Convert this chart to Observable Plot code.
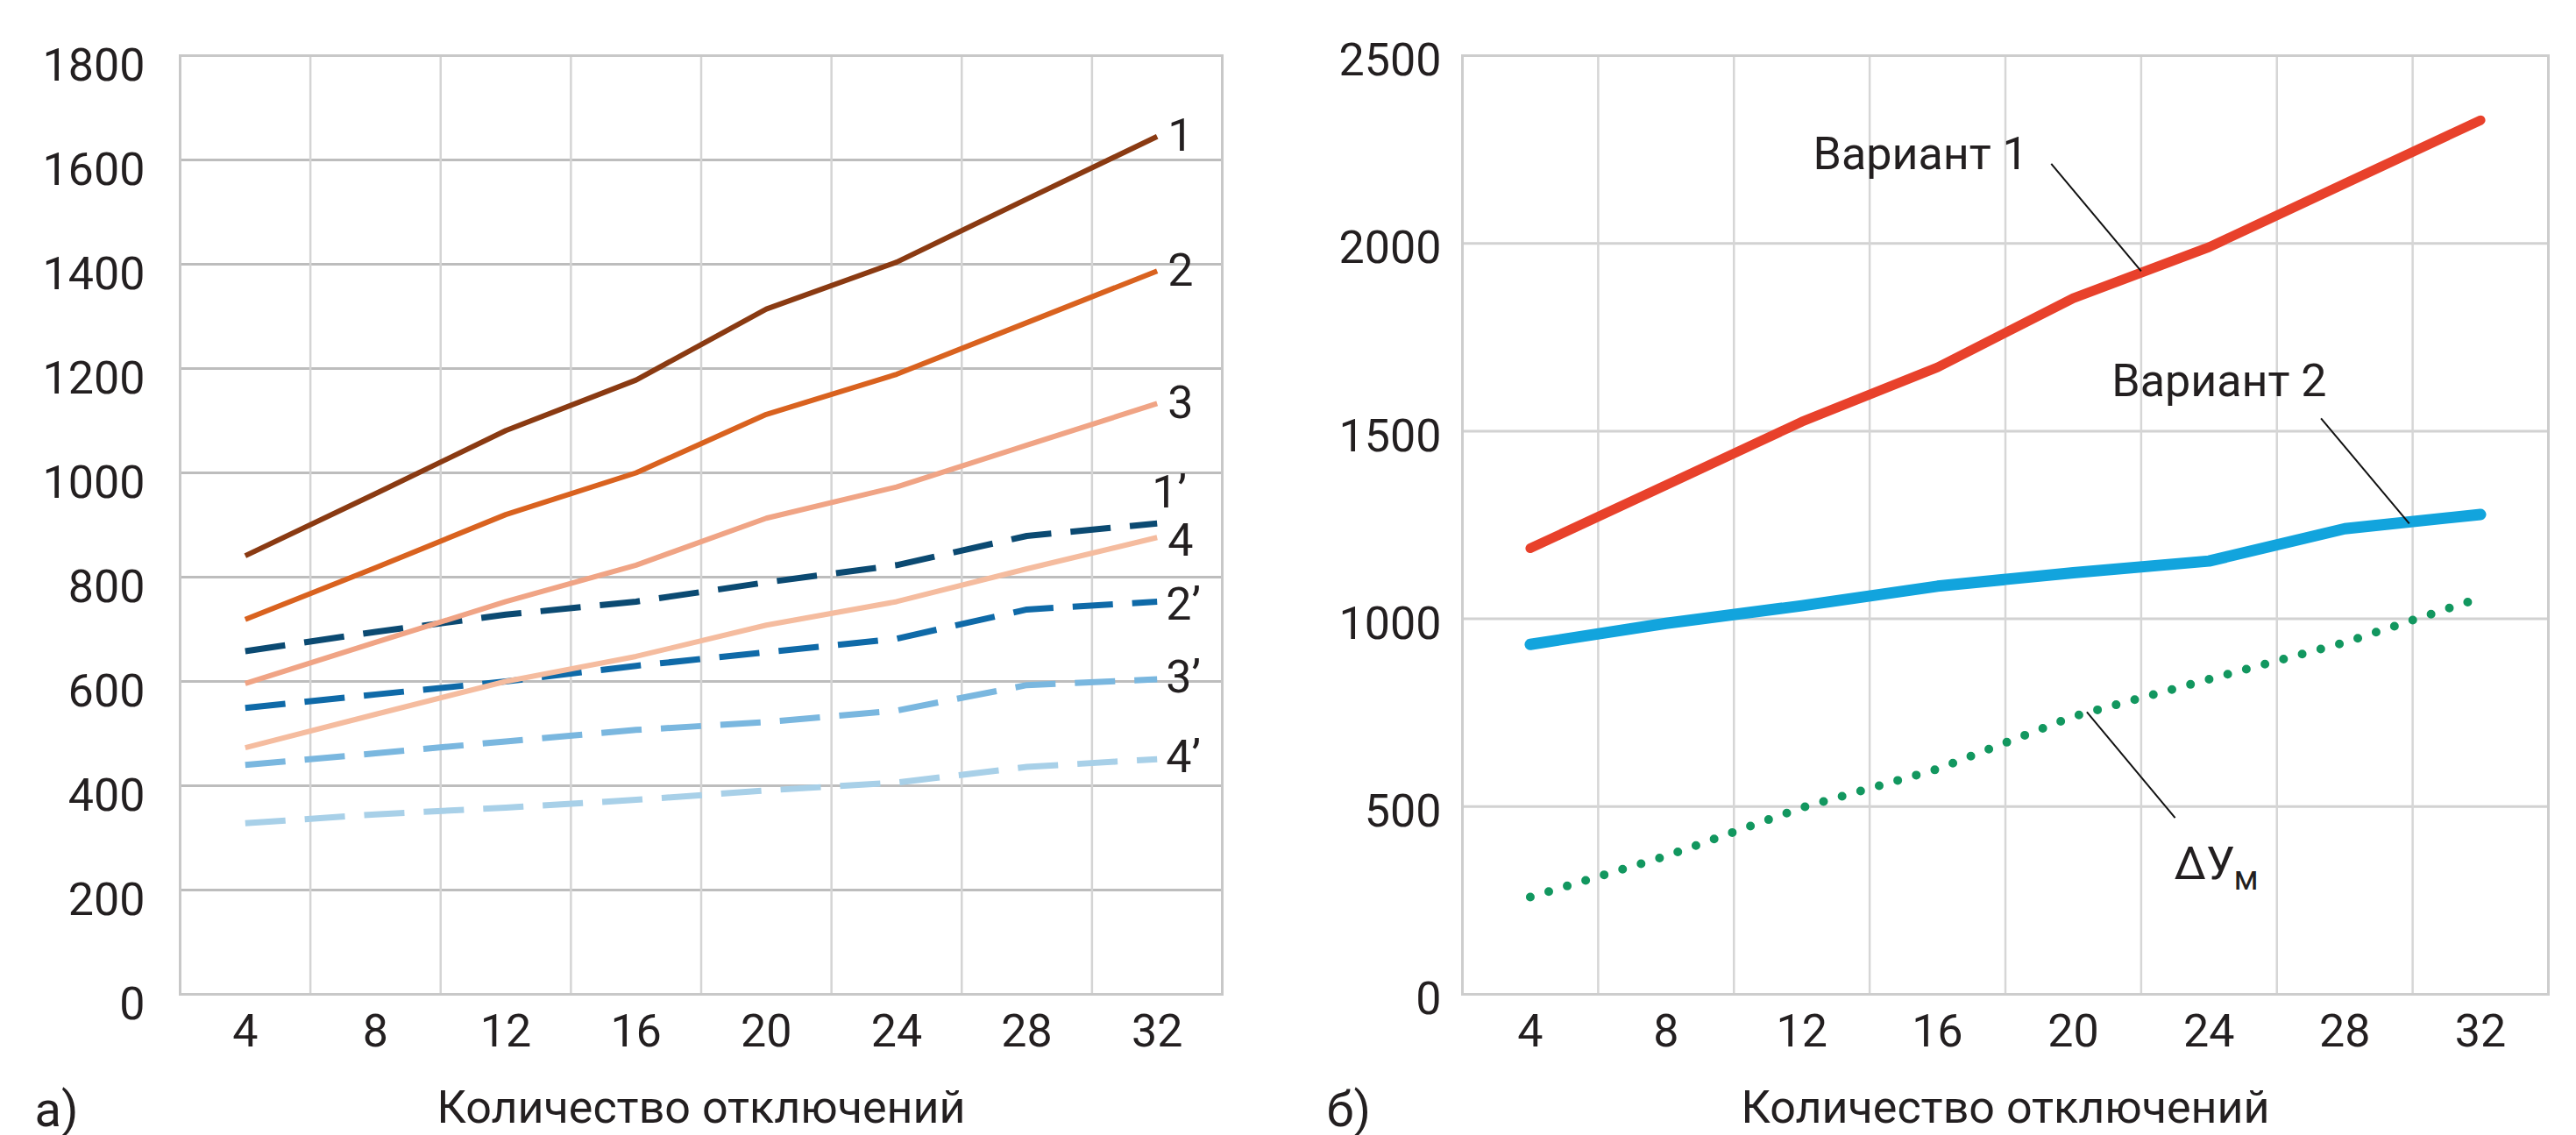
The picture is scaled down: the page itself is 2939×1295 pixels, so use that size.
<!DOCTYPE html>
<html><head><meta charset="utf-8">
<script src="https://cdn.jsdelivr.net/npm/d3@7"></script>
<script src="https://cdn.jsdelivr.net/npm/@observablehq/plot@0.6"></script>
<style>
html,body{margin:0;padding:0;background:#fff}
body{width:2939px;height:1295px;overflow:hidden;position:relative;font-family:Roboto,sans-serif}
#chartA{position:absolute;left:0;top:0}
#chartB{position:absolute;left:1460px;top:0}
</style></head><body>
<div id="chartA"></div><div id="chartB"></div>
<script>
// ---------- data ----------
const xCounts = [4, 8, 12, 16, 20, 24, 28, 32];
const xGrid = [6, 10, 14, 18, 22, 26, 30];
const yTicksA = [0, 200, 400, 600, 800, 1000, 1200, 1400, 1600, 1800];
const yTicksB = [0, 500, 1000, 1500, 2000, 2500];

// chart а)
const line1  = [841, 960, 1081, 1178, 1314, 1404, 1525, 1645];
const line2  = [719, 818, 920, 1000, 1112, 1189, 1288, 1387];
const line3  = [596, 675, 753, 823, 913, 973, 1053, 1133];
const line4  = [473, 537, 600, 648, 708, 753, 816, 876];
const line1p = [658, 695, 728, 753, 790, 823, 879, 903];
const line2p = [549, 575, 600, 630, 656, 682, 738, 753];
const line3p = [440, 462, 485, 507, 522, 544, 593, 604];
const line4p = [328, 345, 358, 373, 391, 406, 436, 451];
const seriesNamesA = ["1", "2", "3", "4", "1’", "2’", "3’", "4’"];

// chart б)
const variant1 = [1188, 1356, 1525, 1670, 1854, 1990, 2159, 2328];
const variant2 = [932, 988, 1035, 1087, 1123, 1154, 1240, 1278];
const deltaU   = [259, 368, 497, 600, 740, 839, 937, 1056];
const seriesNamesB = ["Вариант 1", "Вариант 2", "ΔУ"];

// annotation anchors (data coordinates)
const annoText = [
  {label: "Вариант 1", x: 15.5, y: 2197},
  {label: "Вариант 2", x: 24.3, y: 1593}
];
const annoLinks = [
  {x1: 19.35, y1: 2212, x2: 22.0, y2: 1926},
  {x1: 27.3, y1: 1534, x2: 29.9, y2: 1254},
  {x1: 20.4, y1: 752, x2: 23.0, y2: 470}
];
const deltaLabel = {x: 22.97, y: 306};

const axisTitle = "Количество отключений";

// ---------- styles ----------
const FONT = "Roboto";
const TXT = "#231f20";
const stylesA = [
  {stroke: "#8a3a12", width: 6, dash: null},
  {stroke: "#d9621f", width: 6, dash: null},
  {stroke: "#f0a485", width: 6, dash: null},
  {stroke: "#f5bc9f", width: 6, dash: null},
  {stroke: "#0b4a72", width: 7, dash: "46 22"},
  {stroke: "#0f6aa8", width: 7, dash: "46 22"},
  {stroke: "#7ab7df", width: 7, dash: "46 22"},
  {stroke: "#a8d0e8", width: 7, dash: "46 22"}
];
const labelOffsetA = [
  {dx: 12, dy: 0}, {dx: 12, dy: 0}, {dx: 12, dy: 0}, {dx: 12, dy: 4},
  {dx: -6, dy: -35}, {dx: 10, dy: 4}, {dx: 10, dy: -2}, {dx: 10, dy: -2}
];

const toPts = vals => xCounts.map((x, i) => ({x, y: vals[i]}));
const fmt = d => `${d}`;

// ---------- chart а) ----------
const valsA = [line1, line2, line3, line4, line1p, line2p, line3p, line4p];
const marksA = [
  Plot.ruleY(yTicksA.slice(1, -1), {stroke: "#bdbdbd", strokeWidth: 3}),
  Plot.ruleX(xGrid, {stroke: "#d4d4d4", strokeWidth: 2.5}),
  Plot.frame({stroke: "#c8c8c8", strokeWidth: 3}),
  Plot.axisY(yTicksA, {label: null, tickFormat: fmt, tickSize: 0, tickPadding: 40, fontSize: 52, dy: 12, fill: TXT}),
  Plot.axisX(xCounts, {label: null, tickFormat: fmt, tickSize: 0, tickPadding: 23, fontSize: 52, fill: TXT}),
];
[4, 5, 6, 7, 0, 1, 2, 3].forEach(k => {
  const st = stylesA[k];
  marksA.push(Plot.line(toPts(valsA[k]), {
    x: "x", y: "y", stroke: st.stroke, strokeWidth: st.width,
    strokeDasharray: st.dash ?? undefined, strokeLinecap: "butt", strokeLinejoin: "round"
  }));
});
valsA.forEach((vals, k) => {
  const last = xCounts.length - 1;
  marksA.push(Plot.text([{x: xCounts[last], y: vals[last], t: seriesNamesA[k]}], {
    x: "x", y: "y", text: "t", textAnchor: "start",
    dx: labelOffsetA[k].dx, dy: labelOffsetA[k].dy,
    fontSize: 52, fill: TXT, fontFamily: FONT
  }));
});
marksA.push(Plot.text([axisTitle], {frameAnchor: "bottom", dy: 146, lineAnchor: "bottom", fontSize: 52, fill: TXT, fontFamily: FONT}));
marksA.push(Plot.text(["а)"], {frameAnchor: "bottom-left", dx: -166, dy: 150, textAnchor: "start", lineAnchor: "bottom", fontSize: 56, fill: TXT, fontFamily: FONT}));

const chartA = Plot.plot({
  width: 1460, height: 1295,
  marginLeft: 205, marginRight: 66, marginTop: 63, marginBottom: 161,
  x: {domain: [2, 34]},
  y: {domain: [0, 1800]},
  style: {fontFamily: FONT, fontSize: "52px", color: TXT, background: "#fff", overflow: "visible"},
  marks: marksA
});
document.getElementById("chartA").append(chartA);

// ---------- chart б) ----------
const marksB = [
  Plot.ruleY(yTicksB.slice(1, -1), {stroke: "#d2d2d2", strokeWidth: 3}),
  Plot.ruleX(xGrid, {stroke: "#d6d6d6", strokeWidth: 2.5}),
  Plot.frame({stroke: "#cdcdcd", strokeWidth: 3}),
  Plot.axisY(yTicksB, {label: null, tickFormat: fmt, tickSize: 0, tickPadding: 24, fontSize: 52, dy: 6, fill: TXT}),
  Plot.axisX(xCounts, {label: null, tickFormat: fmt, tickSize: 0, tickPadding: 23, fontSize: 52, fill: TXT}),
  Plot.line(toPts(deltaU), {x: "x", y: "y", stroke: "#12975f", strokeWidth: 10, strokeDasharray: "0 22", strokeLinecap: "round"}),
  Plot.line(toPts(variant2), {x: "x", y: "y", stroke: "#12a4dd", strokeWidth: 13, strokeLinecap: "round", strokeLinejoin: "round"}),
  Plot.line(toPts(variant1), {x: "x", y: "y", stroke: "#e8412b", strokeWidth: 11, strokeLinecap: "round", strokeLinejoin: "round"}),
  Plot.link(annoLinks, {x1: "x1", y1: "y1", x2: "x2", y2: "y2", stroke: "#111", strokeWidth: 2}),
  Plot.text(annoText, {x: "x", y: "y", text: "label", lineAnchor: "bottom", fontSize: 52, fill: TXT, fontFamily: FONT}),
  Plot.text([{...deltaLabel, t: seriesNamesB[2]}], {x: "x", y: "y", text: "t", textAnchor: "start", lineAnchor: "bottom", fontSize: 52, fill: TXT, fontFamily: FONT}),
  Plot.text([{...deltaLabel, t: "м"}], {x: "x", y: "y", text: "t", textAnchor: "start", lineAnchor: "bottom", dx: 68, dy: 12, fontSize: 38, fill: TXT, fontFamily: FONT}),
  Plot.text([axisTitle], {frameAnchor: "bottom", dy: 146, lineAnchor: "bottom", fontSize: 52, fill: TXT, fontFamily: FONT}),
  Plot.text(["б)"], {frameAnchor: "bottom-left", dx: -155, dy: 150, textAnchor: "start", lineAnchor: "bottom", fontSize: 56, fill: TXT, fontFamily: FONT})
];
const chartB = Plot.plot({
  width: 1479, height: 1295,
  marginLeft: 208, marginRight: 32, marginTop: 63, marginBottom: 161,
  x: {domain: [2, 34]},
  y: {domain: [0, 2500]},
  style: {fontFamily: FONT, fontSize: "52px", color: TXT, background: "#fff", overflow: "visible"},
  marks: marksB
});
document.getElementById("chartB").append(chartB);
</script>
</body></html>
